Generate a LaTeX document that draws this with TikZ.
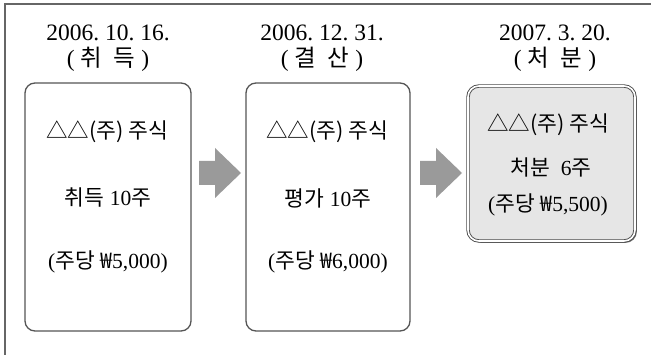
\documentclass[tikz,border=0pt]{standalone}
\usepackage{fontspec}
\setmainfont{Liberation Serif}
\newfontfamily\kr{Noto Sans CJK KR}
\usetikzlibrary{shadows}
\newcommand\K[1]{{\kr #1}}
\definecolor{edge}{HTML}{555555}
\definecolor{arrowgray}{HTML}{9A9A9A}
\definecolor{boxfill}{HTML}{E6E6E6}
\tikzset{
  frameline/.style={draw=black!60, line width=1.6pt},
  stepbox/.style={draw=edge, line width=1.3pt, rounded corners=10pt, inner sep=0pt},
  endbox/.style={draw=black!70, line width=0.9pt, double=white, double distance=1.6pt,
     fill=boxfill, rounded corners=11pt, inner sep=0pt,
     drop shadow={shadow xshift=1.8pt, shadow yshift=-1.8pt, fill=black!55, opacity=1}},
  txt/.style={inner sep=0pt, font=\fontsize{21.5}{24}\selectfont},
  head/.style={inner sep=0pt, font=\fontsize{23.5}{26}\selectfont},
  blockarrow/.style={fill=arrowgray},
}
\begin{document}
\begin{tikzpicture}[x=1pt,y=-1pt]
\useasboundingbox (0,0) rectangle (651,355);
\fill[white] (0,0) rectangle (651,355);
\draw[frameline] (651,4) -- (5,4) -- (5,355);

% headers
\node[head] (h1a) at (108,33) {2006.\ 10.\ 16.};
\node[head] (h1b) at (108,59) {( \K{취}\ \ \K{득} )};
\node[head] (h2a) at (322,33) {2006.\ 12.\ 31.};
\node[head] (h2b) at (322,59) {( \K{결}\ \ \K{산} )};
\node[head] (h3a) at (555,33) {2007.\ 3.\ 20.};
\node[head] (h3b) at (555,59) {( \K{처}\ \ \K{분} )};

% boxes
\node[stepbox, minimum width=166pt, minimum height=248pt] (b1) at (108,207) {};
\node[stepbox, minimum width=164pt, minimum height=248pt] (b2) at (328,207) {};
\node[endbox, minimum width=167pt, minimum height=155pt] (b3) at (551.5,163.5) {};

% box texts
\node[txt] (t11) at (107,132) {\K{△△(주) 주식}};
\node[txt] (t12) at (108,198) {\K{취득} 10\K{주}};
\node[txt] (t13) at (108,262) {(\K{주당} \K{₩}5,000)};
\node[txt] (t21) at (327,132) {\K{△△(주) 주식}};
\node[txt] (t22) at (328,198) {\K{평가} 10\K{주}};
\node[txt] (t23) at (328,262) {(\K{주당} \K{₩}6,000)};
\node[txt] (t31) at (548,125) {\K{△△(주) 주식}};
\node[txt] (t32) at (551,167) {\K{처분}\ \ 6\K{주}};
\node[txt] (t33) at (548,205) {(\K{주당} \K{₩}5,500)};

% block arrows
\coordinate (a1) at (199,173);
\coordinate (a2) at (420,173);
\fill[blockarrow] (a1) ++(0,-12) -- ++(16,0) -- ++(0,-13) -- ++(26,25) -- ++(-26,25) -- ++(0,-13) -- ++(-16,0) -- cycle;
\fill[blockarrow] (a2) ++(0,-12) -- ++(16,0) -- ++(0,-13) -- ++(26,25) -- ++(-26,25) -- ++(0,-13) -- ++(-16,0) -- cycle;
\end{tikzpicture}
\end{document}
